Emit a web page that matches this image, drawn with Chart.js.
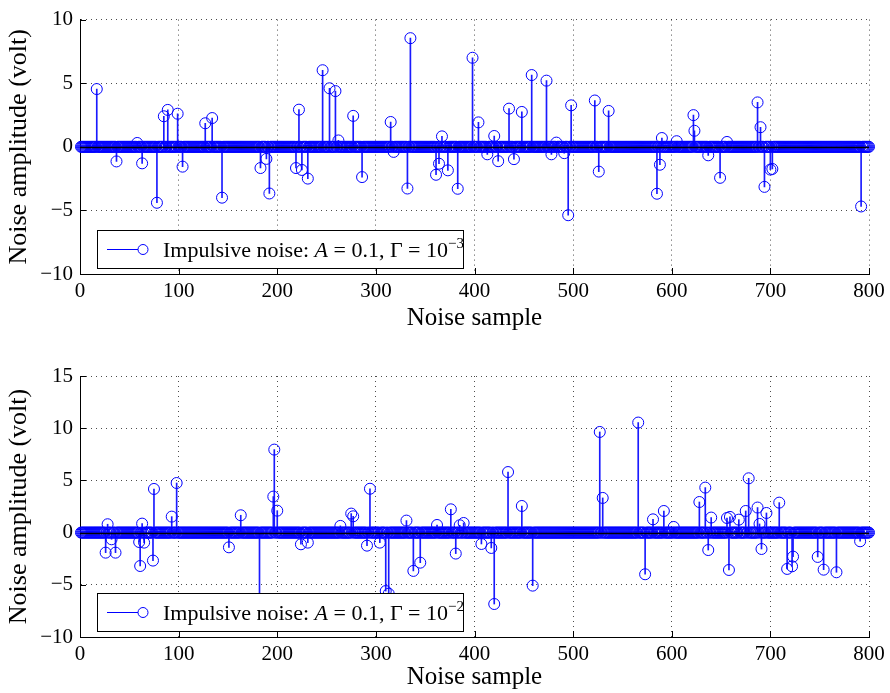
<!DOCTYPE html>
<html><head><meta charset="utf-8">
<script src="https://cdn.jsdelivr.net/npm/chart.js@4/dist/chart.umd.min.js"></script>
<style>
html,body{margin:0;padding:0;background:#fff;width:890px;height:693px;overflow:hidden}
canvas{position:absolute;left:0}
#c1{top:0}
#c2{top:346px}
</style></head><body>
<canvas id="c1" width="890" height="340"></canvas>
<canvas id="c2" width="890" height="347"></canvas>
<script>
const NUM_SAMPLES = 800;
const xTicks = [0, 100, 200, 300, 400, 500, 600, 700, 800];
const yTicks1 = [-10, -5, 0, 5, 10];
const yTicks2 = [-10, -5, 0, 5, 10, 15];
const xTitle = 'Noise sample';
const yTitle = 'Noise amplitude (volt)';

// Top panel: Gamma = 10^-3 (impulse positions and amplitudes; all other samples ~0)
const impulseSamples1 = [17,37,58,63,78,85,89,99,104,127,134,144,183,189,192,219,222,225,231,246,253,259,262,277,286,315,318,332,335,361,364,367,373,383,398,404,413,420,424,435,440,448,458,473,478,483,491,495,498,522,526,536,585,588,590,605,622,623,637,649,656,687,690,694,700,702,792];
const impulseValues1 = [4.54,-1.15,0.3,-1.3,-4.4,2.4,2.9,2.6,-1.56,1.85,2.26,-4.0,-1.67,-0.95,-3.67,-1.67,2.92,-1.82,-2.5,6.02,4.6,4.38,0.5,2.43,-2.38,1.95,-0.4,-3.28,8.54,-2.2,-1.33,0.82,-1.85,-3.3,7.0,1.92,-0.59,0.85,-1.13,3.0,-0.97,2.74,5.64,5.2,-0.59,0.33,-0.5,-5.38,3.26,3.64,-1.95,2.82,-3.69,-1.41,0.69,0.44,2.49,1.26,-0.67,-2.44,0.38,3.49,1.54,-3.15,-1.79,-1.74,-4.69];

// Bottom panel: Gamma = 10^-2
const impulseSamples2 = [26,28,32,36,60,61,63,65,74,75,93,98,151,163,182,196,197,200,224,231,264,275,277,291,294,304,310,313,331,338,345,362,376,381,385,389,407,417,420,434,448,459,527,530,566,573,581,592,602,628,634,637,640,656,658,659,668,675,678,687,689,691,696,709,717,722,723,748,754,767,791];
const impulseValues2 = [-1.92,0.8,-0.64,-1.92,-0.9,-3.2,0.86,-0.96,-2.68,4.18,1.53,4.75,-1.41,1.66,-7.0,3.45,7.95,2.1,-1.12,-0.96,0.64,1.82,1.56,-1.25,4.2,-0.96,-5.6,-5.85,1.15,-3.67,-2.88,0.73,2.23,-2.01,0.7,0.92,-1.09,-1.47,-6.84,5.8,2.55,-5.08,9.64,3.32,10.54,-3.99,1.27,2.07,0.54,2.93,4.31,-1.67,1.44,1.4,-3.58,1.5,1.24,2.07,5.2,2.4,0.83,-1.57,1.88,2.87,-3.48,-3.23,-2.3,-2.33,-3.55,-3.8,-0.83];

const legendParts1 = [['Impulsive noise: ','n'],['A','i'],[' = 0.1, \u0393 = 10','n'],['\u22123','s']];
const legendParts2 = [['Impulsive noise: ','n'],['A','i'],[' = 0.1, \u0393 = 10','n'],['\u22122','s']];

const FAM = "'Liberation Serif', 'Times New Roman', serif";
Chart.defaults.font.family = FAM;
Chart.defaults.color = '#000';

function buildSeries(samples, values) {
  const y = new Array(NUM_SAMPLES).fill(0);
  samples.forEach((s, i) => { y[s - 1] = values[i]; });
  return y.map((v, i) => ({x: i + 1, y: v}));
}
const fmt = v => (v < 0 ? '\u2212' + Math.abs(v) : String(v));

const axisPlugin = {
  id: 'axisExtras',
  afterDatasetsDraw(chart) {
    const ctx = chart.ctx, a = chart.chartArea;
    const ys = chart.scales.y, xs = chart.scales.x;
    ctx.save();
    const y0 = Math.round(ys.getPixelForValue(0)) + 0.5;
    ctx.strokeStyle = '#000'; ctx.lineWidth = 1.6;
    ctx.beginPath(); ctx.moveTo(a.left, y0); ctx.lineTo(a.right, y0); ctx.stroke();
    ctx.lineWidth = 1;
    ctx.beginPath();
    xs.ticks.forEach(t => {
      const px = Math.round(xs.getPixelForValue(t.value)) + 0.5;
      ctx.moveTo(px, a.bottom); ctx.lineTo(px, a.bottom - 6);
    });
    ys.ticks.forEach(t => {
      const py = Math.round(ys.getPixelForValue(t.value)) + 0.5;
      ctx.moveTo(a.left, py); ctx.lineTo(a.left + 6, py);
    });
    ctx.stroke();
    ctx.restore();
  },
  afterDraw(chart, args, opts) {
    const parts = opts.parts;
    if (!parts) return;
    const ctx = chart.ctx, a = chart.chartArea;
    const L = Math.round(a.left + 17), T = Math.round(a.bottom - 44), W = 366, H = 38;
    ctx.save();
    ctx.fillStyle = '#fff'; ctx.fillRect(L, T, W, H);
    ctx.strokeStyle = '#000'; ctx.lineWidth = 1;
    ctx.strokeRect(L + 0.5, T + 0.5, W, H);
    const cy = T + H / 2 + 0.5;
    ctx.strokeStyle = '#0000ff';
    ctx.beginPath(); ctx.moveTo(L + 10, cy); ctx.lineTo(L + 41, cy); ctx.stroke();
    ctx.beginPath(); ctx.arc(L + 46, cy, 5, 0, 2 * Math.PI); ctx.stroke();
    let x = L + 66;
    ctx.fillStyle = '#000'; ctx.textAlign = 'left'; ctx.textBaseline = 'alphabetic';
    const base = cy + 7;
    parts.forEach(([txt, kind]) => {
      let dy = 0;
      if (kind === 'i') ctx.font = 'italic 22px ' + FAM;
      else if (kind === 's') { ctx.font = '15px ' + FAM; dy = -9; }
      else ctx.font = '22px ' + FAM;
      ctx.fillText(txt, x, base + dy);
      x += ctx.measureText(txt).width;
    });
    ctx.restore();
  }
};

function makeChart(id, series, yTicks, ymin, ymax, padTop, xAxisH, titleBottomPad, legendParts) {
  return new Chart(document.getElementById(id), {
    type: 'bar',
    data: {
      datasets: [
        {
          type: 'bar', data: series, backgroundColor: '#1a1aff', borderWidth: 0,
          barThickness: 1, grouped: false, order: 2
        },
        {
          type: 'scatter', data: series, showLine: false, pointStyle: 'circle',
          pointRadius: 5.5, pointHoverRadius: 5.5, pointBorderWidth: 1, borderWidth: 1,
          borderColor: '#0000ff', pointBorderColor: '#0000ff',
          backgroundColor: 'rgba(0,0,0,0)', pointBackgroundColor: 'rgba(0,0,0,0)',
          clip: 10, order: 1
        }
      ]
    },
    options: {
      responsive: false, animation: false, events: [],
      layout: {padding: {top: padTop, right: 21, left: 0, bottom: 0}},
      plugins: {legend: {display: false}, tooltip: {enabled: false}, axisExtras: {parts: legendParts}},
      scales: {
        x: {
          type: 'linear', min: 0, max: 800, offset: false,
          afterBuildTicks: s => { s.ticks = xTicks.map(v => ({value: v})); },
          afterFit: s => { s.height = xAxisH; },
          ticks: {font: {family: FAM, size: 21}, color: '#000', padding: 5, maxRotation: 0, autoSkip: false, callback: v => fmt(v)},
          grid: {color: 'rgba(0,0,0,0.7)', lineWidth: 1, drawTicks: false, offset: false},
          border: {display: true, color: '#000', width: 1, dash: [1, 4]},
          title: {display: true, text: xTitle, color: '#000', font: {family: FAM, size: 25}, padding: {top: 0, bottom: titleBottomPad}}
        },
        y: {
          type: 'linear', min: ymin, max: ymax,
          afterBuildTicks: s => { s.ticks = yTicks.map(v => ({value: v})); },
          afterFit: s => { s.width = 80; },
          ticks: {font: {family: FAM, size: 21}, color: '#000', padding: 7, callback: v => fmt(v)},
          grid: {color: 'rgba(0,0,0,0.7)', lineWidth: 1, drawTicks: false},
          border: {display: true, color: '#000', width: 1, dash: [1, 4]},
          title: {display: true, text: yTitle, color: '#000', font: {family: FAM, size: 26}, padding: {top: 4, bottom: 0}}
        }
      }
    },
    plugins: [axisPlugin]
  });
}

makeChart('c1', buildSeries(impulseSamples1, impulseValues1), yTicks1, -10, 10, 14, 66, 7, legendParts1);
makeChart('c2', buildSeries(impulseSamples2, impulseValues2), yTicks2, -10, 15, 30, 56, 1, legendParts2);
</script>
</body></html>
